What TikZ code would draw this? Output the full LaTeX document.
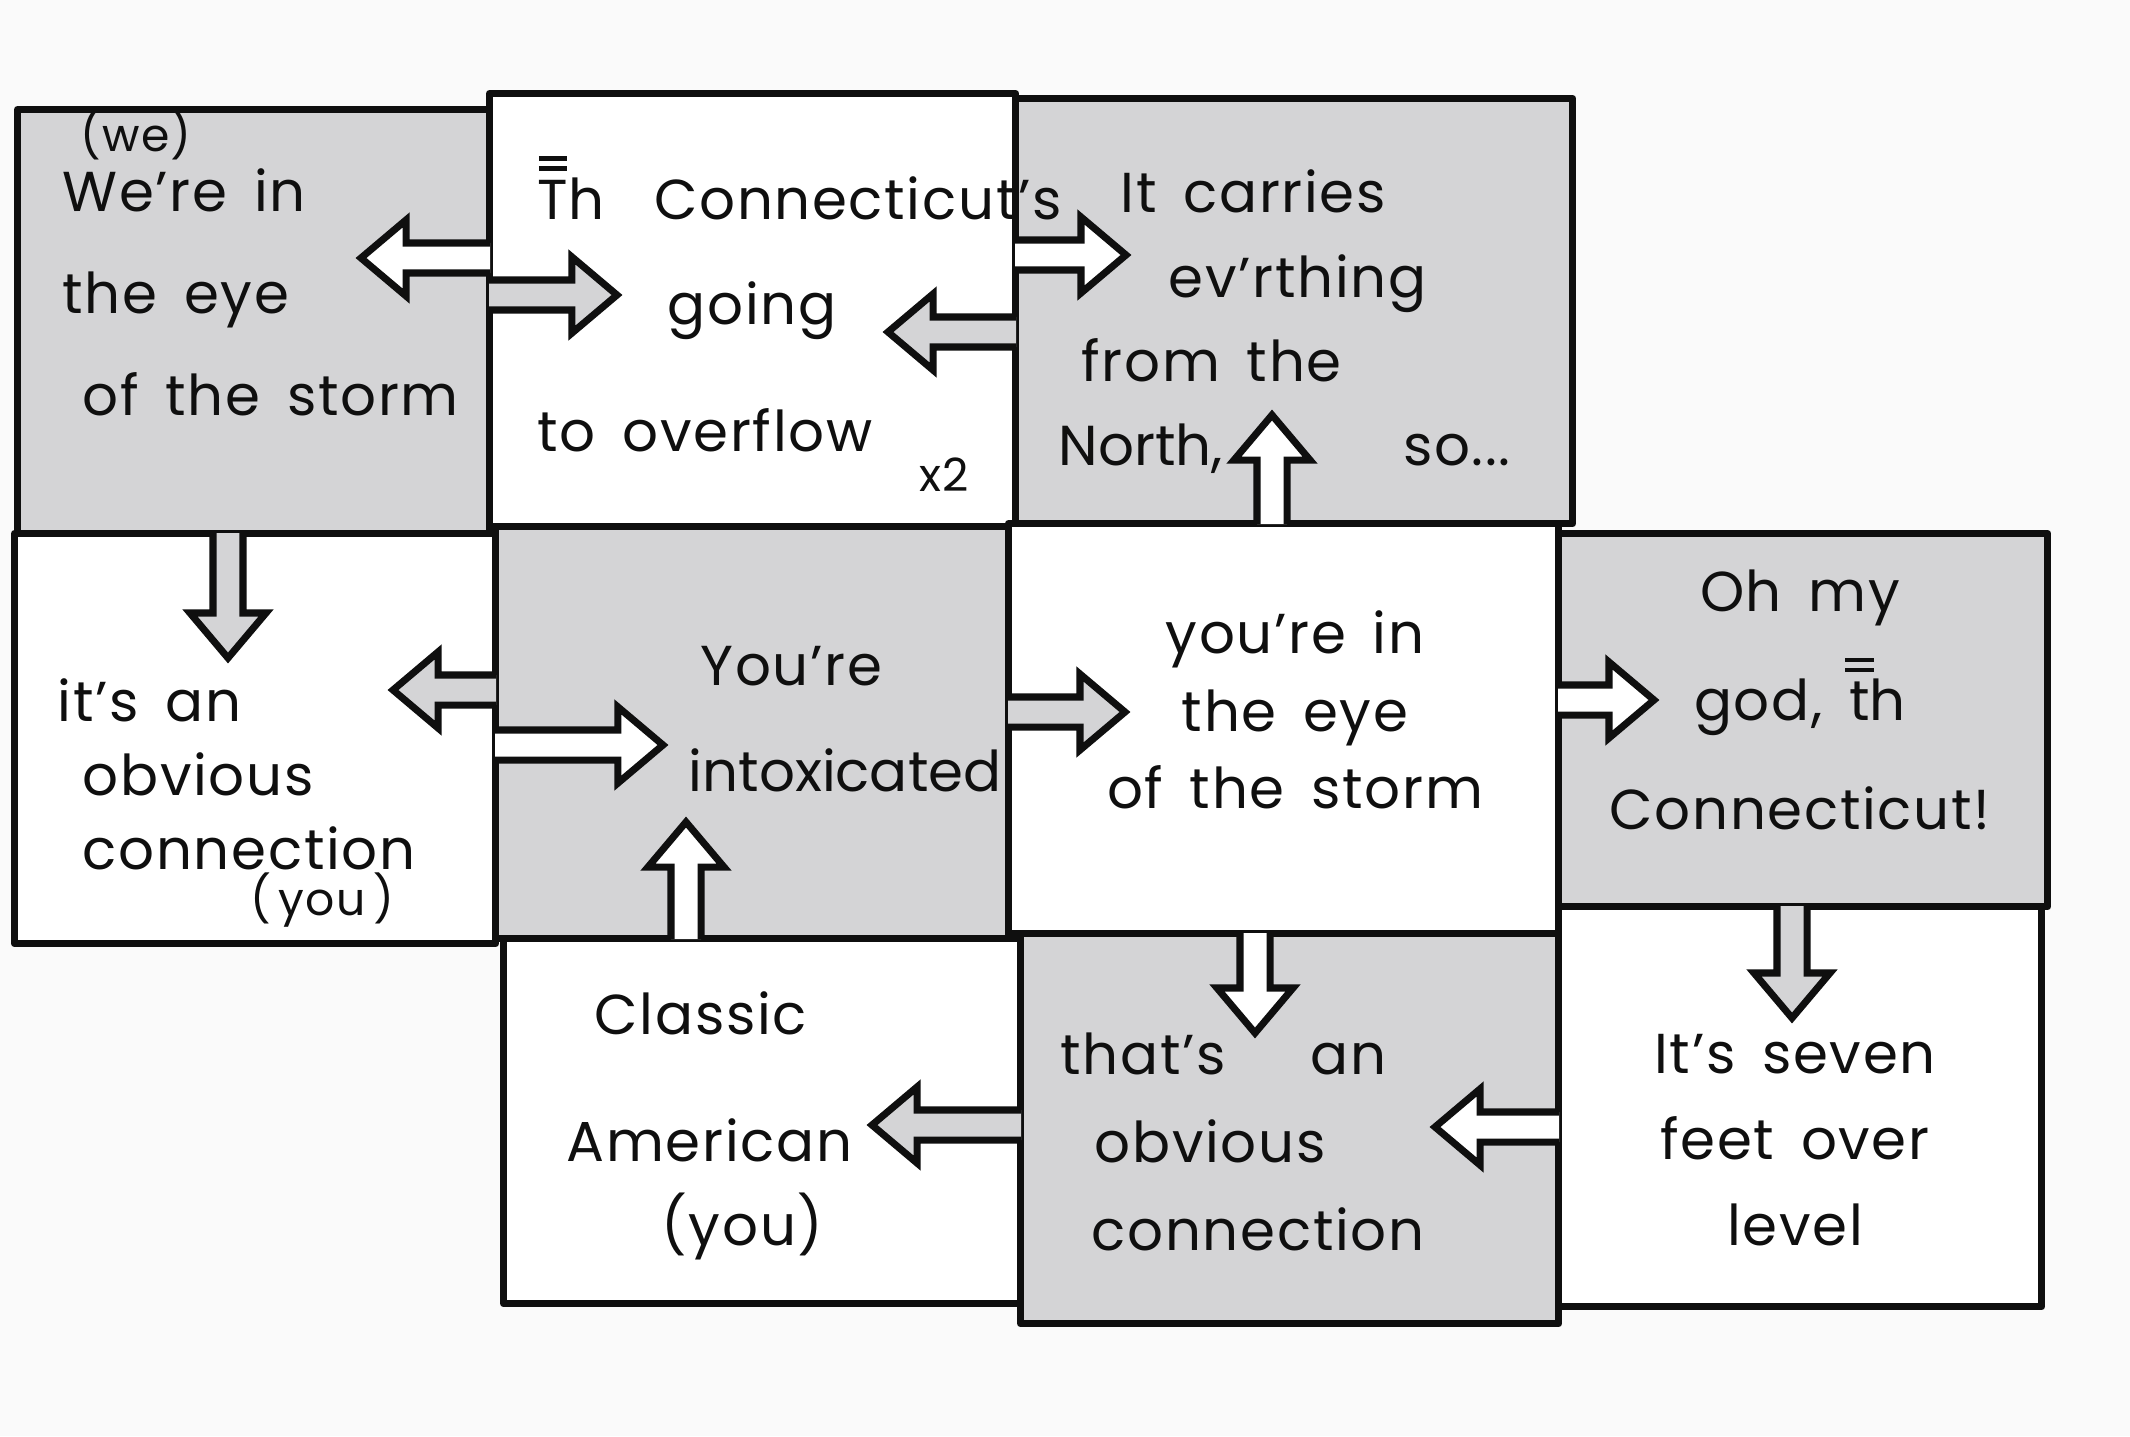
\documentclass[tikz,border=0pt]{standalone}
\usepackage{fontspec}
\setmainfont{Poppins}[LetterSpace=3, WordSpace=1.6]
\usetikzlibrary{calc}
\definecolor{paper}{RGB}{250,250,250}
\definecolor{pencil}{RGB}{212,212,214}
\definecolor{ink}{RGB}{15,15,15}
\tikzset{
  panel/.style={
    draw=ink,
    line width=2pt,
    line join=round,
    anchor=north west,
    inner sep=0pt
  },
  words/.style={
    font=\fontsize{16}{26}\selectfont,
    align=center,
    inner sep=0pt,
    text=ink
  },
  aside/.style={font=\fontsize{13}{15}\selectfont, inner sep=0pt, text=ink},
  flow/.style={draw=ink, line width=2pt, line join=miter}
}
% "th" with the two bars written above the first letter
\newcommand{\thbar}[1]{\ooalign{#1\cr
  \hidewidth\rule[0.86em]{0.5em}{0.08em}\hidewidth\cr
  \hidewidth\rule[1.04em]{0.5em}{0.08em}\hidewidth\cr}}
\newcommand{\tight}[1]{{\addfontfeature{LetterSpace=0}#1}}
% hollow block arrow from a point on a box edge to a tip
\newcommand{\shaftw}{0.15cm}
\newcommand{\headw}{0.38cm}
\newcommand{\headl}{0.45cm}
\newcommand{\flowarrow}[3]{%
  \path let \p1=(#1), \p2=(#2) in
    \pgfextra{\pgfmathsetmacro\fang{atan2(\y2-\y1,\x2-\x1)}%
              \pgfmathsetmacro\flen{veclen(\x2-\x1,\y2-\y1)}%
              \xdef\flowang{\fang}\xdef\flowlen{\flen}%
              \xdef\flowx{\x1}\xdef\flowy{\y1}};
  \draw[flow, fill=#3, shift={(\flowx,\flowy)}, rotate=\flowang]
    (-1.2pt,-\shaftw) -- ({\flowlen pt-\headl},-\shaftw) -- ({\flowlen pt-\headl},-\headw)
    -- (\flowlen pt,0pt) -- ({\flowlen pt-\headl},\headw) -- ({\flowlen pt-\headl},\shaftw)
    -- (-1.2pt,\shaftw);}

\begin{document}
\begin{tikzpicture}[x=0.01cm, y=-0.01cm]
\useasboundingbox (0,0) rectangle (2130,1436);
\fill[paper] (0,0) rectangle (2130,1436);

% the ten panels
\node[panel, fill=pencil, minimum width=4.72cm, minimum height=4.24cm] (we) at (14,106) {};
\node[panel, fill=white, minimum width=5.26cm, minimum height=4.33cm] (river) at (486,90) {};
\node[panel, fill=pencil, minimum width=5.57cm, minimum height=4.25cm] (north) at (1012,95) {};
\node[panel, fill=white, minimum width=4.81cm, minimum height=4.10cm] (obvious) at (11,530) {};
\node[panel, fill=pencil, minimum width=5.13cm, minimum height=4.12cm] (intox) at (492,523) {};
\node[panel, fill=white, minimum width=5.50cm, minimum height=4.10cm] (eye) at (1005,520) {};
\node[panel, fill=pencil, minimum width=4.89cm, minimum height=3.73cm] (omg) at (1555,530) {};
\node[panel, fill=white, minimum width=5.17cm, minimum height=3.65cm] (classic) at (500,935) {};
\node[panel, fill=pencil, minimum width=5.38cm, minimum height=3.90cm] (thats) at (1017,930) {};
\node[panel, fill=white, minimum width=4.83cm, minimum height=4.00cm] (seven) at (1555,903) {};

% texts
\node[aside] (we-note) at (136,134) {(we)};
\node[words, anchor=west, align=left] (we-txt) at (62,292)
{We're in\\[3pt]the eye\\[3pt]\hspace*{0.2cm}of the storm};
\node[words, anchor=west, align=left] (river-txt) at (537,314)
{\thbar{T}h\hspace{0.5cm}Connecticut's\\[4pt]\hspace*{1.3cm}going\\[10pt]to overflow};
\node[aside] (river-note) at (944,475) {x2};
\node[words, anchor=west, align=left] (north-txt) at (1058,322)
{\hspace*{0.62cm}It carries\\[-2pt]\hspace*{1.1cm}ev'rthing\\[-2pt]\hspace*{0.23cm}from the\\[-2pt]\tight{North,}\hspace{1.8cm}so...};
\node[words, anchor=west, align=left] (obvious-txt) at (57,774)
{it's an\\[-5pt]\hspace*{0.25cm}obvious\\[-5pt]\hspace*{0.25cm}connection};
\node[aside] (obvious-note) at (322,900) {(\,you\,)};
\node[words, anchor=west, align=left] (intox-txt) at (688,719)
{\hspace*{0.12cm}You're\\[4pt]\tight{intoxicated}};
\node[words] (eye-txt) at (1295,710) {you're in\\[-4pt]the eye\\[-4pt]of the storm};
\node[words] (omg-txt) at (1800,700) {Oh my\\[5pt]god, \thbar{t}h\\[5pt]Connecticut!};
\node[words, anchor=west, align=left] (classic-txt) at (566,1126)
{\hspace*{0.28cm}Classic\\[10pt]American\\[-2pt]\hspace*{0.95cm}(you)};
\node[words, anchor=west, align=left] (thats-txt) at (1060,1142)
{that's\hspace{0.85cm}an\\[-1pt]\hspace*{0.34cm}obvious\\[-1pt]\hspace*{0.31cm}connection};
\node[words] (seven-txt) at (1795,1140) {It's seven\\[-1.5pt]feet over\\[-1.5pt]level};

% arrow tips
\coordinate (tip-we) at (361,258);
\coordinate (tip-river) at (617,295);
\coordinate (tip-north) at (1126,255);
\coordinate (tip-river2) at (888,332);
\coordinate (tip-north2) at (1272,415);
\coordinate (tip-obv) at (228,658);
\coordinate (tip-obv2) at (393,690);
\coordinate (tip-intox) at (663,745);
\coordinate (tip-eye) at (1125,712);
\coordinate (tip-intox2) at (686,822);
\coordinate (tip-thats) at (1255,1033);
\coordinate (tip-omg) at (1654,700);
\coordinate (tip-seven) at (1792,1018);
\coordinate (tip-thats2) at (1435,1127);
\coordinate (tip-classic) at (872,1125);

\flowarrow{river.west |- tip-we}{tip-we}{white}
\flowarrow{we.east |- tip-river}{tip-river}{pencil}
\flowarrow{river.east |- tip-north}{tip-north}{white}
\flowarrow{north.west |- tip-river2}{tip-river2}{pencil}
\flowarrow{eye.north -| tip-north2}{tip-north2}{white}
\flowarrow{we.south -| tip-obv}{tip-obv}{pencil}
\flowarrow{intox.west |- tip-obv2}{tip-obv2}{pencil}
\flowarrow{obvious.east |- tip-intox}{tip-intox}{white}
\flowarrow{intox.east |- tip-eye}{tip-eye}{pencil}
\flowarrow{classic.north -| tip-intox2}{tip-intox2}{white}
\flowarrow{eye.south -| tip-thats}{tip-thats}{white}
\flowarrow{eye.east |- tip-omg}{tip-omg}{white}
\flowarrow{omg.south -| tip-seven}{tip-seven}{pencil}
\flowarrow{seven.west |- tip-thats2}{tip-thats2}{white}
\flowarrow{thats.west |- tip-classic}{tip-classic}{pencil}
\end{tikzpicture}
\end{document}
